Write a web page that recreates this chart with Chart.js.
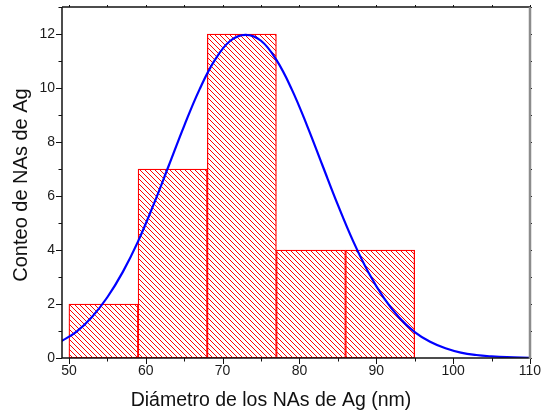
<!DOCTYPE html>
<html>
<head>
<meta charset="utf-8">
<script src="https://cdn.jsdelivr.net/npm/chart.js@4/dist/chart.umd.min.js"></script>
<style>
  html, body { margin: 0; background: #fff; }
  #wrap { width: 542px; height: 419px; position: relative; }
</style>
</head>
<body>
<div id="wrap"><canvas id="c"></canvas></div>
<script>
// histogram bins (nm) and counts
const binStarts = [50, 59, 68, 77, 86];
const binWidth  = 9;
const counts    = [2, 7, 12, 4, 4];

// gaussian fit curve
const fitX = [49, 51, 53, 55, 57, 59, 61, 63, 65, 67, 69, 71, 73, 75, 77, 79, 81, 83, 85, 87, 89, 91, 93, 95, 97, 99, 101, 103, 105, 107, 110];
const fitY = [0.62, 0.98, 1.52, 2.25, 3.18, 4.32, 5.67, 7.13, 8.60, 9.95, 11.04, 11.75, 11.97, 11.75, 11.04, 9.95, 8.60, 7.13, 5.67, 4.32, 3.16, 2.22, 1.49, 0.96, 0.60, 0.36, 0.20, 0.11, 0.06, 0.03, 0.01];

const xTickLabels = [50, 60, 70, 80, 90, 100, 110];
const yTickLabels = [0, 2, 4, 6, 8, 10, 12];

const FONT = '"Liberation Sans", Arial, sans-serif';

function hatch() {
  const n = 5;
  const p = document.createElement('canvas');
  p.width = n; p.height = n;
  const g = p.getContext('2d');
  g.fillStyle = '#fff';
  g.fillRect(0, 0, n, n);
  g.strokeStyle = '#ff0000';
  g.lineWidth = 1;
  g.beginPath();
  g.moveTo(-1, -1); g.lineTo(n + 1, n + 1);
  g.moveTo(-1, n - 1); g.lineTo(1, n + 1);
  g.moveTo(n - 1, -1); g.lineTo(n + 1, 1);
  g.stroke();
  return document.createElement('canvas').getContext('2d').createPattern(p, 'repeat');
}

// frame, tick marks and axis titles
const frame = {
  id: 'frame',
  afterDraw(chart) {
    const { ctx, chartArea: a, scales: { x, y } } = chart;
    const seg = (x1, y1, x2, y2) => { ctx.beginPath(); ctx.moveTo(x1, y1); ctx.lineTo(x2, y2); ctx.stroke(); };
    ctx.save();
    ctx.strokeStyle = '#111';
    ctx.lineWidth = 1;
    for (let v = 50; v <= 110; v += 5) {
      const px = Math.round(x.getPixelForValue(v)) + 0.5;
      const len = v % 10 === 0 ? 6 : 3.5;
      seg(px, a.bottom, px, a.bottom + len);
      seg(px, a.top, px, a.top - 2);
    }
    for (let v = 0; v <= 13; v += 1) {
      const py = Math.round(y.getPixelForValue(v)) + 0.5;
      const len = v % 2 === 0 ? 6 : 3.5;
      seg(a.left, py, a.left - len, py);
      seg(a.right, py, a.right + 2, py);
    }
    // box
    ctx.lineWidth = 1.5;
    ctx.strokeStyle = '#111';
    seg(a.left, a.top, a.right, a.top);
    seg(a.left, a.top, a.left, a.bottom);
    seg(a.left, a.bottom, a.right, a.bottom);
    ctx.strokeStyle = '#8c8c8c';
    ctx.lineWidth = 2.5;
    seg(a.right, a.top, a.right, a.bottom + 1);

    // titles
    ctx.fillStyle = '#111';
    ctx.textAlign = 'center';
    ctx.textBaseline = 'alphabetic';
    ctx.font = '19.5px ' + FONT;
    ctx.fillText('Diámetro de los NAs de Ag (nm)', 271, 406);
    ctx.translate(27, 185);
    ctx.rotate(-Math.PI / 2);
    ctx.font = '20px ' + FONT;
    ctx.fillText('Conteo de NAs de Ag', 0, 0);
    ctx.restore();
  }
};

new Chart(document.getElementById('c'), {
  data: {
    datasets: [
      {
        type: 'line',
        order: 0,
        data: fitX.map((v, i) => ({ x: v, y: fitY[i] })),
        borderColor: '#0000ff',
        borderWidth: 2.2,
        pointRadius: 0,
        tension: 0.4,
        fill: false,
      },
      {
        type: 'bar',
        order: 1,
        data: binStarts.map((s, i) => ({ x: s + binWidth / 2, y: counts[i] })),
        backgroundColor: hatch(),
        borderColor: '#ff0000',
        borderWidth: 1.3,
        borderSkipped: false,
        barPercentage: 1,
        categoryPercentage: 1,
        grouped: false,
      },
    ],
  },
  options: {
    responsive: true,
    maintainAspectRatio: false,
    devicePixelRatio: 1,
    animation: false,
    layout: { padding: { top: 7, right: 12, left: 0, bottom: 0 } },
    plugins: { legend: { display: false }, tooltip: { enabled: false } },
    scales: {
      x: {
        type: 'linear',
        offset: false,
        min: 49.1, max: 110,
        afterBuildTicks: s => { s.ticks = xTickLabels.map(v => ({ value: v })); },
        afterFit: s => { s.height = 61; s.paddingLeft = 0; s.paddingRight = 0; },
        grid: { display: false, drawTicks: false, offset: false },
        border: { display: false },
        ticks: { padding: 5, maxRotation: 0, color: '#1a1a1a', font: { family: FONT, size: 14 } },
      },
      y: {
        type: 'linear',
        min: 0, max: 13,
        afterBuildTicks: s => { s.ticks = yTickLabels.map(v => ({ value: v })); },
        afterFit: s => { s.width = 62; s.paddingTop = 0; s.paddingBottom = 0; },
        grid: { display: false, drawTicks: false },
        border: { display: false },
        ticks: { padding: 7, color: '#1a1a1a', font: { family: FONT, size: 14 } },
      },
    },
  },
  plugins: [frame],
});
</script>
</body>
</html>
